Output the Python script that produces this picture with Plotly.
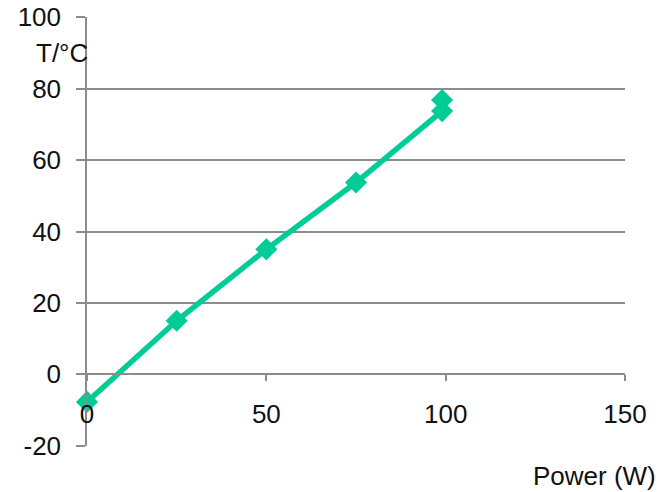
import plotly.graph_objects as go

power = [0, 25, 50, 75, 99, 99]
temp = [-7.7, 15.0, 35.0, 53.7, 73.7, 76.8]
x_ticks = [0, 50, 100, 150]
y_ticks = [-20, 0, 20, 40, 60, 80, 100]
y_tick_text = ["-20", "0", "20", "40", "60", "80", "100"]

green = "#00CC96"
grid = "#8C8C8C"
font = dict(family="Liberation Sans, Arial, sans-serif", size=26, color="#111111")

fig = go.Figure()
fig.add_trace(go.Scatter(
    x=power, y=temp, mode="lines+markers",
    line=dict(color=green, width=5.5),
    marker=dict(symbol="diamond", size=17, color=green),
    showlegend=False, cliponaxis=False,
))

fig.update_layout(
    width=671, height=492,
    margin=dict(l=87, r=46, t=17, b=46, autoexpand=False),
    plot_bgcolor="white", paper_bgcolor="white",
    font=font,
    xaxis=dict(
        range=[0, 150], tickvals=x_ticks, showgrid=False, zeroline=False,
        showline=True, linecolor=grid, linewidth=1.5,
        ticks="outside", ticklen=6, tickcolor=grid, tickwidth=1.5,
        anchor="free", position=20.05 / 120.1, tickfont=font, automargin=False,
        ticklabelstandoff=11,
    ),
    yaxis=dict(
        range=[-20.05, 100.05], tickvals=y_ticks, ticktext=y_tick_text,
        showgrid=True, gridcolor=grid, gridwidth=1.5,
        zeroline=False, showline=True, linecolor=grid, linewidth=1.5,
        ticks="outside", ticklen=9, tickcolor=grid, tickwidth=1.5,
        ticklabelstandoff=10, tickfont=font, automargin=False,
    ),
    annotations=[
        dict(text="T/°C", xref="paper", yref="paper", x=0.005, y=0.916,
             xanchor="right", yanchor="middle", showarrow=False, font=font),
        dict(text="Power (W)", xref="paper", yref="paper", x=1.062, y=-0.07,
             xanchor="right", yanchor="middle", showarrow=False, font=font),
    ],
)

fig.write_html("out.html", config={"displayModeBar": False},
               post_script="document.body.style.margin='0';")
